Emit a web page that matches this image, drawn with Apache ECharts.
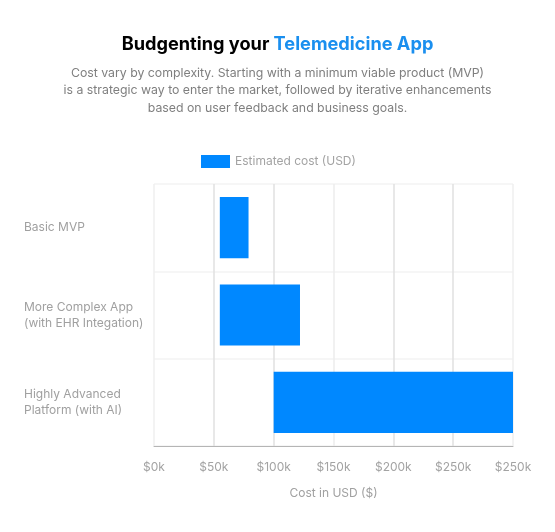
<!DOCTYPE html>
<html>
<head>
<meta charset="utf-8">
<style>
html, body { margin: 0; padding: 0; background: #fff; }
#chart { width: 555px; height: 532px; }
</style>
<script src="https://cdn.jsdelivr.net/npm/echarts@6/dist/echarts.min.js"></script>
</head>
<body>
<div id="chart"></div>
<script>
const categories = ['Basic MVP', 'More Complex App\n(with EHR Integation)', 'Highly Advanced\nPlatform (with AI)'];
const costLow = [55, 55, 100];
const costHigh = [79, 122, 300];
const tickLabels = ['$0k', '$50k', '$100k', '$150k', '$200k', '$250k', '$250k'];
const seriesName = 'Estimated cost (USD)';

const font = 'Inter';
const costSpan = costHigh.map(function (v, i) { return v - costLow[i]; });

let myChart = echarts.init(document.getElementById('chart'), null, {renderer: 'canvas'});
myChart.setOption({
    animation: false,
    backgroundColor: '#fff',
    textStyle: {fontFamily: font},
    title: [
        {
            left: 'center',
            top: 31,
            text: '{a|Budgenting your }{b|Telemedicine App}',
            textStyle: {
                rich: {
                    a: {fontFamily: font, fontSize: 18.2, fontWeight: 700, color: '#000'},
                    b: {fontFamily: font, fontSize: 18.2, fontWeight: 700, color: '#1a8fef'}
                }
            }
        },
        {
            left: 'center',
            top: 59,
            text: 'Cost vary by complexity. Starting with a minimum viable product (MVP)\nis a strategic way to enter the market, followed by iterative enhancements\nbased on user feedback and business goals.',
            textStyle: {fontFamily: font, fontSize: 12.3, fontWeight: 400, color: '#7f7f7f', lineHeight: 17.7, align: 'center'}
        }
    ],
    legend: {
        data: [{name: seriesName, icon: 'rect'}],
        left: 196,
        top: 150,
        itemWidth: 29,
        itemHeight: 13,
        itemGap: 5,
        textStyle: {fontFamily: font, fontSize: 12, color: '#a3a3a3'}
    },
    grid: {left: 154, right: 42, top: 184, bottom: 86},
    xAxis: {
        type: 'value',
        min: 0,
        max: 300,
        interval: 50,
        name: 'Cost in USD ($)',
        nameLocation: 'middle',
        nameGap: 41,
        nameTextStyle: {fontFamily: font, fontSize: 12, color: '#a0a0a0'},
        axisLine: {show: true, onZero: false, lineStyle: {color: '#b5b5b5', width: 1}},
        axisTick: {show: false},
        axisLabel: {
            margin: 15,
            fontFamily: font,
            fontSize: 12,
            color: '#a3a3a3',
            formatter: function (value) {
                return tickLabels[value / 50];
            }
        },
        splitLine: {
            show: true,
            lineStyle: {
                width: 1.5,
                color: ['#efefef', '#e0e0e0', '#e0e0e0', '#ececec', '#e0e0e0', '#e0e0e0', '#efefef']
            }
        }
    },
    yAxis: {
        type: 'category',
        inverse: true,
        data: categories,
        axisLine: {show: false},
        axisTick: {show: false},
        axisLabel: {
            margin: 130,
            align: 'left',
            fontFamily: font,
            fontSize: 12,
            lineHeight: 16,
            color: '#a0a0a0'
        },
        splitLine: {show: true, lineStyle: {color: '#f3f3f3', width: 1.5}}
    },
    series: [
        {
            type: 'bar',
            name: 'offset',
            stack: 'cost',
            silent: true,
            itemStyle: {color: 'transparent'},
            barWidth: '70%',
            data: costLow
        },
        {
            type: 'bar',
            name: seriesName,
            stack: 'cost',
            itemStyle: {color: '#0088ff'},
            barWidth: '70%',
            data: costSpan
        }
    ]
});
</script>
</body>
</html>
